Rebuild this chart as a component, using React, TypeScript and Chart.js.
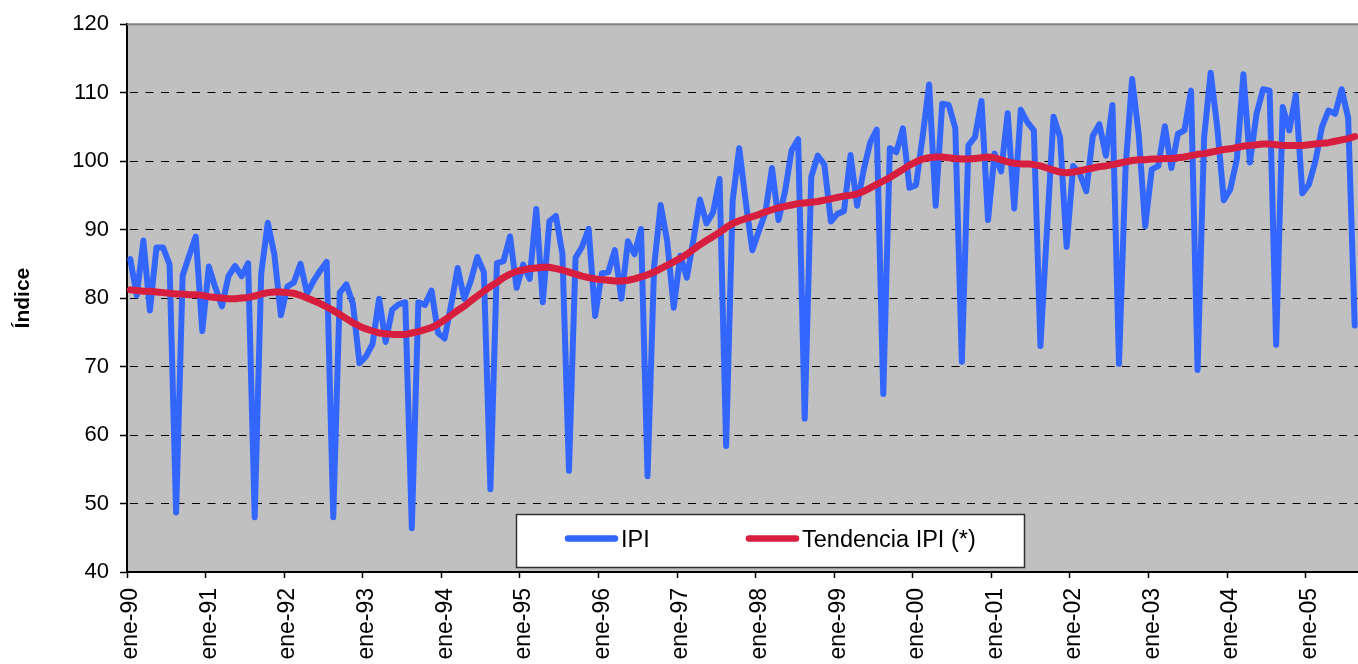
import React, { useEffect, useRef } from 'react';
import { Chart, registerables } from 'chart.js';

Chart.register(...registerables);

const FONT = '"Liberation Sans", Arial, Helvetica, sans-serif';

// Monthly categories: ene-90 ... ago-05
const monthNames = ['ene', 'feb', 'mar', 'abr', 'may', 'jun', 'jul', 'ago', 'sep', 'oct', 'nov', 'dic'];
const yearCodes = ['90', '91', '92', '93', '94', '95', '96', '97', '98', '99', '00', '01', '02', '03', '04', '05'];

// Tick labels on the x axis (one per January)
const tickLabels = [
  'ene-90', 'ene-91', 'ene-92', 'ene-93', 'ene-94', 'ene-95', 'ene-96', 'ene-97',
  'ene-98', 'ene-99', 'ene-00', 'ene-01', 'ene-02', 'ene-03', 'ene-04', 'ene-05',
];
const yTicks = [40, 50, 60, 70, 80, 90, 100, 110, 120];

// Índice de Producción Industrial (monthly)
const ipi = [
  85.7, 80.4, 88.4, 78.2, 87.4, 87.4, 84.9, 48.7, 83.3, 86.2, 89.0, 75.2, // 1990
  84.6, 81.5, 78.8, 83.2, 84.7, 83.2, 85.1, 48.0, 83.6, 91.0, 86.4, 77.5, // 1991
  81.7, 82.3, 85.0, 80.7, 82.5, 84.0, 85.3, 48.0, 80.8, 82.0, 79.2, 70.5, // 1992
  71.5, 73.3, 79.9, 73.6, 78.3, 79.1, 79.4, 46.4, 79.4, 79.0, 81.1, 74.9, // 1993
  74.1, 79.0, 84.4, 79.9, 82.5, 86.0, 83.8, 52.1, 85.1, 85.4, 89.0, 81.5, // 1994
  84.9, 82.8, 93.0, 79.4, 91.2, 92.0, 86.4, 54.8, 85.9, 87.5, 90.1, 77.4, // 1995
  83.6, 83.8, 87.0, 79.9, 88.3, 86.4, 90.1, 54.0, 84.6, 93.6, 88.3, 78.6, // 1996
  86.2, 83.0, 88.5, 94.4, 90.9, 92.5, 97.4, 58.4, 94.3, 101.9, 94.0, 87.0, // 1997
  89.8, 92.5, 99.0, 91.4, 95.6, 101.6, 103.2, 62.4, 97.7, 100.8, 99.5, 91.2, // 1998
  92.3, 92.7, 100.9, 93.5, 98.7, 102.7, 104.6, 66.0, 101.9, 101.3, 104.8, 96.1, // 1999
  96.5, 103.5, 111.2, 93.5, 108.4, 108.2, 104.8, 70.7, 102.3, 103.5, 108.8, 91.4, // 2000
  101.1, 98.5, 107.0, 93.1, 107.5, 105.7, 104.5, 73.0, 90.0, 106.5, 103.5, 87.5, // 2001
  99.3, 98.2, 95.6, 103.7, 105.4, 100.8, 108.2, 70.4, 99.0, 112.0, 104.0, 90.5, // 2002
  98.8, 99.3, 105.1, 99.0, 104.0, 104.5, 110.3, 69.5, 103.5, 112.9, 105.0, 94.3, // 2003
  95.9, 100.3, 112.7, 99.8, 106.9, 110.5, 110.3, 73.2, 107.9, 104.5, 109.7, 95.3, // 2004
  96.6, 100.0, 105.0, 107.4, 106.9, 110.5, 106.3, 76.0, // 2005
];

// Tendencia IPI (*)
const tendencia = [
  81.2, 81.1, 81.0, 81.0, 80.9, 80.8, 80.7, 80.6, 80.6, 80.5, 80.5, 80.4, // 1990
  80.2, 80.1, 80.0, 79.9, 79.9, 80.0, 80.1, 80.3, 80.6, 80.8, 80.9, 80.9, // 1991
  80.8, 80.7, 80.4, 80.0, 79.6, 79.2, 78.7, 78.2, 77.6, 77.0, 76.4, 75.9, // 1992
  75.5, 75.2, 74.9, 74.8, 74.7, 74.7, 74.7, 74.9, 75.1, 75.4, 75.7, 76.2, // 1993
  76.8, 77.5, 78.2, 78.8, 79.6, 80.3, 81.0, 81.7, 82.3, 83.0, 83.5, 83.9, // 1994
  84.1, 84.3, 84.4, 84.5, 84.5, 84.3, 84.1, 83.8, 83.5, 83.2, 83.0, 82.8, // 1995
  82.7, 82.6, 82.5, 82.5, 82.6, 82.8, 83.1, 83.4, 83.8, 84.3, 84.8, 85.3, // 1996
  85.8, 86.4, 87.1, 87.8, 88.4, 89.0, 89.6, 90.3, 90.9, 91.3, 91.6, 91.9, // 1997
  92.2, 92.6, 92.9, 93.2, 93.4, 93.6, 93.8, 93.9, 94.0, 94.1, 94.3, 94.5, // 1998
  94.7, 94.9, 95.0, 95.2, 95.6, 96.1, 96.6, 97.1, 97.6, 98.2, 98.8, 99.4, // 1999
  99.9, 100.3, 100.5, 100.6, 100.6, 100.5, 100.4, 100.3, 100.3, 100.4, 100.5, 100.6, // 2000
  100.5, 100.2, 99.9, 99.7, 99.6, 99.6, 99.5, 99.3, 99.0, 98.7, 98.4, 98.3, // 2001
  98.4, 98.6, 98.8, 99.0, 99.2, 99.3, 99.5, 99.7, 99.9, 100.1, 100.2, 100.2, // 2002
  100.3, 100.3, 100.4, 100.4, 100.5, 100.6, 100.8, 101.0, 101.1, 101.3, 101.5, 101.7, // 2003
  101.8, 102.0, 102.2, 102.3, 102.4, 102.5, 102.5, 102.4, 102.3, 102.3, 102.3, 102.3, // 2004
  102.4, 102.5, 102.6, 102.7, 102.9, 103.1, 103.3, 103.6, // 2005
];

const seriesNames = ['IPI', 'Tendencia IPI (*)'];
const seriesColors = ['#3366FF', '#D81E3E'];
const axisTitle = 'Índice';

// Category names for every month (ene-90 ... ago-05)
const categories: string[] = [];
yearCodes.forEach((y) => monthNames.forEach((m) => categories.push(`${m}-${y}`)));
const nPoints = ipi.length;

// Points sit at the middle of each monthly band; the year ticks at band edges.
const toXY = (vals: number[]) => vals.map((v, i) => ({ x: i + 0.5, y: v, label: categories[i] }));

const plotBackground = {
  id: 'plotBackground',
  beforeDraw(chart: any) {
    const { ctx, chartArea: a } = chart;
    ctx.save();
    ctx.fillStyle = '#C0C0C0';
    ctx.fillRect(a.left, a.top, a.right - a.left, a.bottom - a.top);
    ctx.restore();
  },
  beforeDatasetsDraw(chart: any) {
    const { ctx, chartArea: a } = chart;
    ctx.save();
    ctx.strokeStyle = '#808080';
    ctx.lineWidth = 2;
    ctx.beginPath();
    ctx.moveTo(a.left, a.top);
    ctx.lineTo(a.right, a.top);
    ctx.stroke();
    ctx.restore();
  },
};

const boxLegend = {
  id: 'boxLegend',
  afterDraw(chart: any) {
    const { ctx } = chart;
    const left = 516, top = 514, w = 509, h = 54;
    ctx.save();
    ctx.fillStyle = '#FFFFFF';
    ctx.fillRect(left, top, w, h);
    ctx.strokeStyle = '#303030';
    ctx.lineWidth = 1.5;
    ctx.strokeRect(left + 0.5, top + 0.5, w - 1, h - 1);
    const items = [
      { x0: 568, x1: 615, tx: 621 },
      { x0: 749, x1: 796, tx: 802 },
    ];
    items.forEach((it, i) => {
      ctx.strokeStyle = seriesColors[i];
      ctx.lineWidth = 6.5;
      ctx.lineCap = 'round';
      ctx.beginPath();
      ctx.moveTo(it.x0, 538.5);
      ctx.lineTo(it.x1, 538.5);
      ctx.stroke();
      ctx.fillStyle = '#000000';
      ctx.font = `23.5px ${FONT}`;
      ctx.textBaseline = 'middle';
      ctx.textAlign = 'left';
      ctx.fillText(seriesNames[i], it.tx, 541);
    });
    ctx.restore();
  },
};

export default function App() {
  const canvasRef = useRef<HTMLCanvasElement | null>(null);

  useEffect(() => {
    const canvas = canvasRef.current;
    if (!canvas) return;
    const chart = new Chart(canvas, {
      type: 'line',
      data: {
        datasets: [
          {
            label: seriesNames[1],
            data: toXY(tendencia),
            borderColor: seriesColors[1],
            borderWidth: 7,
            pointRadius: 0,
            tension: 0,
            borderJoinStyle: 'round',
            borderCapStyle: 'round',
            order: 1,
          },
          {
            label: seriesNames[0],
            data: toXY(ipi),
            borderColor: seriesColors[0],
            borderWidth: 6,
            pointRadius: 0,
            tension: 0,
            borderJoinStyle: 'round',
            borderCapStyle: 'round',
            order: 2,
          },
        ],
      },
      options: {
        animation: false,
        responsive: false,
        maintainAspectRatio: false,
        parsing: { xAxisKey: 'x', yAxisKey: 'y' },
        layout: { padding: { top: 24, right: 0, left: 0, bottom: 0 } },
        plugins: {
          legend: { display: false },
          tooltip: { enabled: false },
          title: { display: false },
        },
        scales: {
          x: {
            type: 'linear',
            min: 0,
            max: nPoints,
            afterBuildTicks: (scale: any) => {
              scale.ticks = tickLabels.map((_, i) => ({ value: i * 12 }));
            },
            afterFit: (scale: any) => {
              scale.height = 92;
            },
            ticks: {
              autoSkip: false,
              maxRotation: 90,
              minRotation: 90,
              padding: 10,
              labelOffset: 4,
              color: '#000000',
              font: { family: FONT, size: 23 },
              callback: (value: any) => tickLabels[Math.round(Number(value) / 12)] ?? '',
            },
            grid: {
              display: true,
              drawOnChartArea: false,
              drawTicks: true,
              tickLength: 6,
              tickColor: '#000000',
              tickWidth: 1.5,
            },
            border: { display: true, color: '#000000', width: 2 },
          },
          y: {
            type: 'linear',
            min: 40,
            max: 120,
            afterBuildTicks: (scale: any) => {
              scale.ticks = yTicks.map((v) => ({ value: v }));
            },
            afterFit: (scale: any) => {
              scale.width = 127;
            },
            ticks: {
              padding: 11,
              color: '#000000',
              font: { family: FONT, size: 22 },
            },
            title: {
              display: true,
              text: axisTitle,
              color: '#000000',
              font: { family: FONT, size: 21, weight: 'bold' },
              padding: { top: 11, bottom: 0 },
            },
            grid: {
              display: true,
              drawOnChartArea: true,
              drawTicks: true,
              tickLength: 7,
              tickColor: '#000000',
              tickWidth: 1.5,
              lineWidth: 1,
              color: (ctx: any) =>
                ctx.tick && (ctx.tick.value === 40 || ctx.tick.value === 120) ? 'rgba(0,0,0,0)' : '#000000',
            },
            border: { display: true, color: '#000000', width: 2, dash: [8, 7.5], dashOffset: 13.5 },
          },
        },
      },
      plugins: [plotBackground, boxLegend],
    } as any);
    return () => chart.destroy();
  }, []);

  return (
    <div style={{ position: 'fixed', left: 0, top: 0, width: 1358, height: 664, background: '#FFFFFF' }}>
      <canvas ref={canvasRef} width={1358} height={664} style={{ width: 1358, height: 664, display: 'block' }} />
    </div>
  );
}
